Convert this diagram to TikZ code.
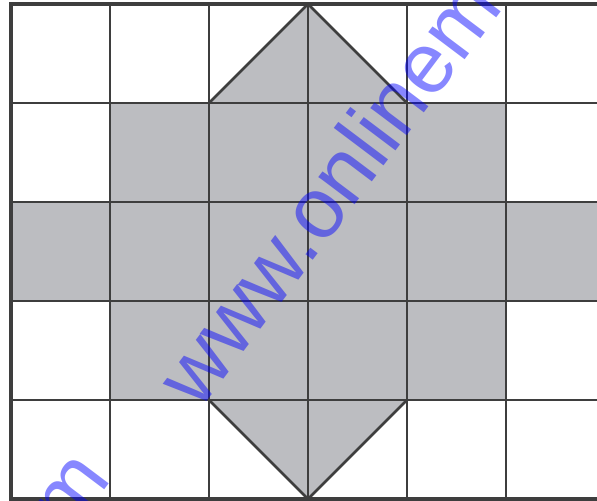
\documentclass[tikz,border=0pt]{standalone}
\usepackage{fontspec}
\newfontfamily\wmfont{Liberation Sans}
\definecolor{figshade}{RGB}{188,189,193}
\definecolor{gridgray}{RGB}{62,62,62}
\begin{document}
\begin{tikzpicture}[x=1cm,y=1cm,
gridline/.style={draw=gridgray,line width=0.75pt},
frameline/.style={draw=gridgray,line width=1.2pt},
watermark/.style={text=blue,text opacity=0.47,inner sep=0pt,
  font=\wmfont\fontsize{24.7}{30}\selectfont}
]
\def\cols{6}
\def\rows{5}
\useasboundingbox (-0.111,-0.02) rectangle (5.919,5.04);
\clip (-0.111,-0.02) rectangle (5.919,5.04);
% shaded figure
\fill[figshade] (1,1) rectangle (5,4);
\fill[figshade] (0,2) rectangle (\cols,3);
\fill[figshade] (2,4) -- (3,5) -- (4,4) -- cycle;
\fill[figshade] (2,1) -- (3,0) -- (4,1) -- cycle;
% grid
\foreach \x in {1,...,\cols} \draw[gridline] (\x,0) -- (\x,\rows);
\foreach \y in {1,...,4} \draw[gridline] (0,\y) -- (\cols,\y);
\draw[gridline] (2,4) -- (3,5) -- (4,4);
\draw[gridline] (2,1) -- (3,0) -- (4,1);
\draw[frameline] (\cols,0) -- (0,0) -- (0,\rows) -- (\cols,\rows);
% watermark
\node[watermark,anchor=base west,rotate=53] (wm) at (1.90,0.88) {www.onlinem};
\node[watermark,anchor=base west,rotate=53] (wmend) at (0.586,-0.384) {m};
\end{tikzpicture}
\end{document}
